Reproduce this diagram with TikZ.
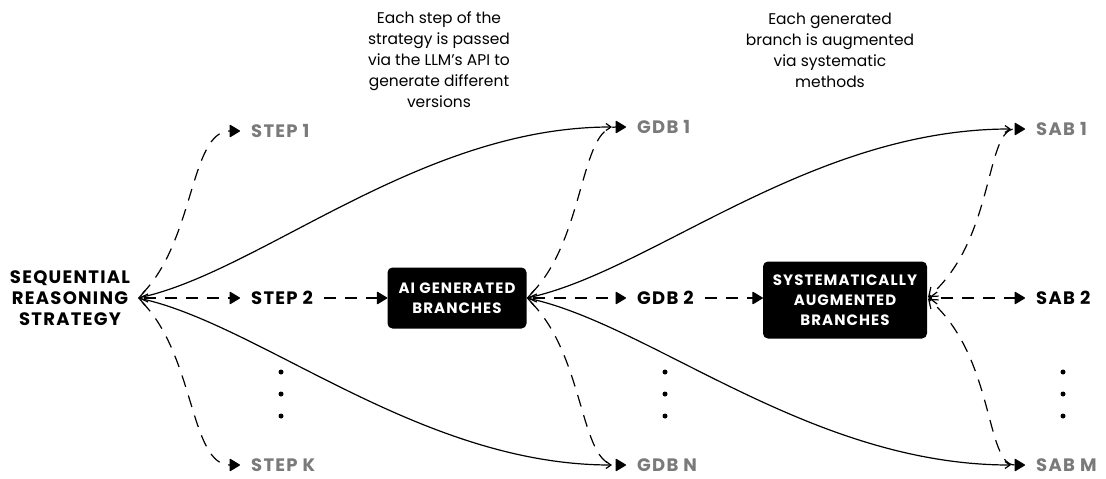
\documentclass[tikz,border=0pt]{standalone}
\usepackage{fontspec}
\setmainfont{Poppins}
\newfontfamily\capsfont{Poppins}[LetterSpace=7]
\usetikzlibrary{arrows.meta}
\definecolor{labelgray}{HTML}{7A7A7A}
\tikzset{
  lbl/.style={font=\capsfont\bfseries\fontsize{18}{21}\selectfont, anchor=west, inner xsep=11pt, inner ysep=0pt},
  dim/.style={text=labelgray},
  box/.style={fill=black, text=white, rounded corners=5pt, align=center,
    font=\capsfont\bfseries\fontsize{15}{20}\selectfont, inner sep=0pt},
  note/.style={align=center, font=\fontsize{15.5}{21}\selectfont},
  link/.style={line width=1.2pt},
  dsh/.style={link, dash pattern=on 12pt off 9pt},
  fhead/.style={-{Triangle[length=11pt,width=13pt,round]}},
  barbs/.style={{Straight Barb[length=8pt,width=12pt]}-{Straight Barb[length=5pt,width=7pt]}},
  barbtri/.style={{Straight Barb[length=8pt,width=12pt]}-{Triangle[length=11pt,width=13pt,round]}},
  dot/.style={circle, fill=black, inner sep=0pt, minimum size=5pt},
}
\begin{document}
\begin{tikzpicture}[x=1pt,y=-1pt]
\useasboundingbox (0,0) rectangle (1106,479);

% source
\node[font=\capsfont\bfseries\fontsize{18}{21}\selectfont, align=center, inner xsep=8pt] (srs) at (70,298)
  {SEQUENTIAL\\REASONING\\STRATEGY};
\coordinate (srsT) at (138,298);

% first column of steps
\node[lbl,dim] (s1) at (240,131) {STEP 1};
\node[lbl]     (s2) at (240,298) {STEP 2};
\node[lbl,dim] (sk) at (240,465) {STEP K};
\foreach \y/\n in {372/a,394/b,416/c} \node[dot] (sd\n) at (281,\y) {};

% generation box
\node[box, minimum width=139pt, minimum height=61pt] (ai) at (457,298)
  {AI GENERATED\\BRANCHES};

% generated branches
\node[lbl,dim] (g1) at (626,127) {GDB 1};
\node[lbl]     (g2) at (626,298) {GDB 2};
\node[lbl,dim] (gn) at (626,465) {GDB N};
\foreach \y/\n in {372/a,394/b,416/c} \node[dot] (gd\n) at (665,\y) {};

% augmentation box
\node[box, minimum width=164pt, minimum height=77pt] (sy) at (845,300)
  {SYSTEMATICALLY\\AUGMENTED\\BRANCHES};

% augmented branches
\node[lbl,dim] (a1) at (1025,129) {SAB 1};
\node[lbl]     (a2) at (1025,298) {SAB 2};
\node[lbl,dim] (am) at (1025,465) {SAB M};
\foreach \y/\n in {372/a,394/b,416/c} \node[dot] (ad\n) at (1063,\y) {};

% notes
\node[note] (n1) at (439,60) {Each step of the\\strategy is passed\\via the LLM's API to\\generate different\\versions};
\node[note] (n2) at (830,50) {Each generated\\branch is augmented\\via systematic\\methods};

% strategy -> steps
\draw[dsh,fhead,shorten <=6pt] (srsT) .. controls (195,240) and (190,131) .. (s1.west);
\draw[dsh,fhead,shorten <=6pt] (srsT) -- (s2.west);
\draw[dsh,fhead,shorten <=6pt] (srsT) .. controls (195,356) and (190,465) .. (sk.west);
% strategy <-> generated branches
\draw[link,barbs] (srsT) .. controls (260,272) and (420,127) .. ([xshift=-14pt]g1.west);
\draw[link,barbs] (srsT) .. controls (260,324) and (420,465) .. ([xshift=-14pt]gn.west);

% step -> box -> branches
\draw[dsh,fhead] (s2.east) -- (ai.west);
\draw[dsh,fhead,shorten <=6pt] (ai.east) .. controls (585,240) and (580,127) .. (g1.west);
\draw[dsh,fhead,shorten <=6pt] (ai.east) -- (g2.west);
\draw[dsh,fhead,shorten <=6pt] (ai.east) .. controls (585,356) and (580,465) .. (gn.west);
\draw[link,barbs] (ai.east) .. controls (650,272) and (810,129) .. ([xshift=-14pt]a1.west);
\draw[link,barbs] (ai.east) .. controls (650,324) and (810,465) .. ([xshift=-14pt]am.west);

% branch -> box -> augmented branches
\draw[dsh,fhead] (g2.east) -- (sy.west |- g2.east);
\draw[dsh,barbtri,dash phase=10pt,shorten <=1pt] (sy.east |- a2.west) .. controls (995,240) and (985,129) .. (a1.west);
\draw[dsh,barbtri,dash phase=10pt,shorten <=1pt] (sy.east |- a2.west) -- (a2.west);
\draw[dsh,barbtri,dash phase=10pt,shorten <=1pt] (sy.east |- a2.west) .. controls (995,356) and (985,465) .. (am.west);
\end{tikzpicture}
\end{document}
